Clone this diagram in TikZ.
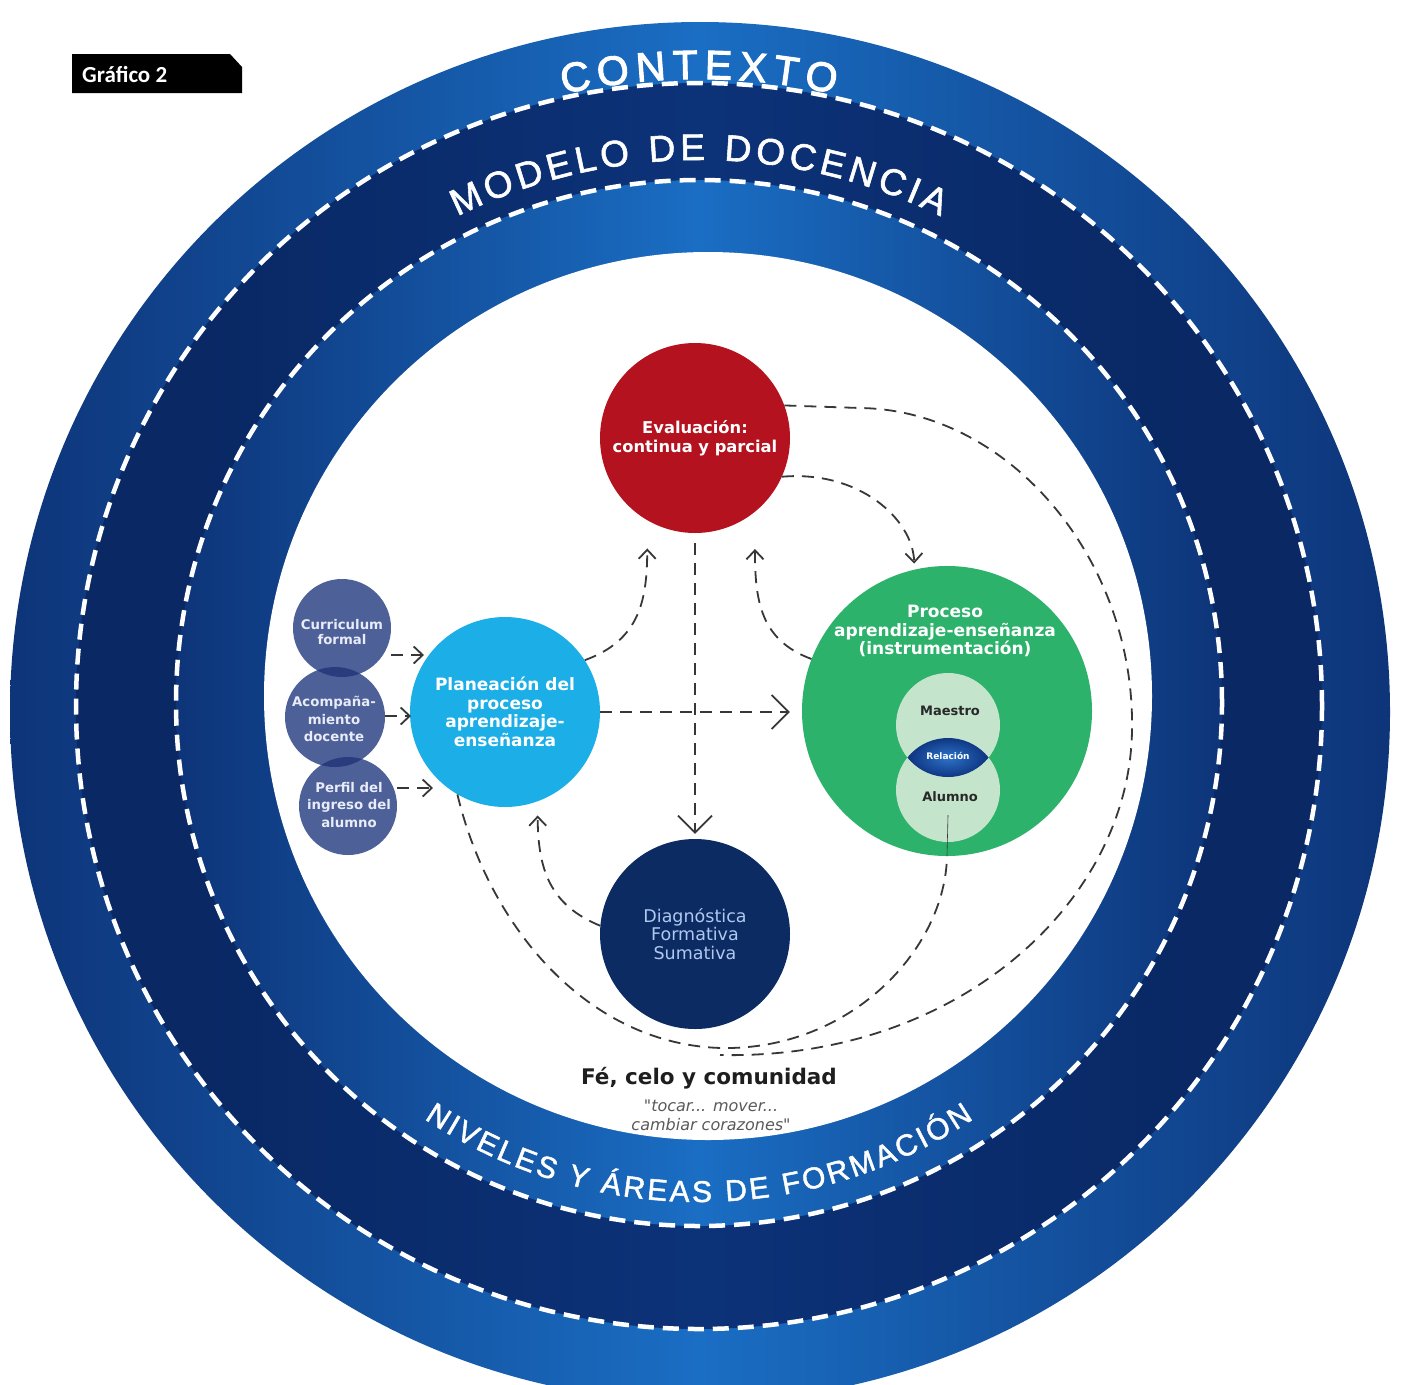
\documentclass[tikz,border=0pt]{standalone}
\usepackage{fontspec}
\usetikzlibrary{arrows.meta,calc}
\newfontfamily\ringfontA[FakeBold=2.5]{Liberation Sans}
\newfontfamily\ringfontB[FakeBold=1.5]{Liberation Sans}
\newfontfamily\nodefont{DejaVu Sans}
\newfontfamily\tagfont{Carlito}

\definecolor{ringdark}{RGB}{13,50,118}
\definecolor{ringbright}{RGB}{26,110,196}
\definecolor{middark}{RGB}{9,40,100}
\definecolor{midlight}{RGB}{12,50,120}
\definecolor{evalred}{RGB}{180,18,30}
\definecolor{planblue}{RGB}{28,174,230}
\definecolor{procgreen}{RGB}{44,178,107}
\definecolor{diagnavy}{RGB}{12,43,98}
\definecolor{diagtext}{RGB}{175,200,240}
\definecolor{slate}{RGB}{78,96,152}
\definecolor{slatedark}{RGB}{42,60,125}
\definecolor{slatetext}{RGB}{232,236,248}
\definecolor{paleg}{RGB}{196,228,204}
\definecolor{lensdark}{RGB}{10,45,120}
\definecolor{lenslight}{RGB}{45,115,200}
\definecolor{linegray}{RGB}{55,55,55}
\definecolor{inkdark}{RGB}{30,30,30}
\definecolor{quotegray}{RGB}{90,90,90}
\definecolor{labelgray}{RGB}{40,40,40}

\pgfdeclarehorizontalshading{bandshade}{100bp}{color(0bp)=(ringdark); color(24bp)=(ringdark); color(50bp)=(ringbright); color(76bp)=(ringdark); color(100bp)=(ringdark)}
\pgfdeclarehorizontalshading{midshade}{100bp}{color(0bp)=(middark); color(30bp)=(middark); color(50bp)=(midlight); color(70bp)=(middark); color(100bp)=(middark)}

% #1 centre, #2 radius, #3 mid angle, #4 tracking, #5 font, #6 font size, #7 direction (1 top, -1 bottom), #8 list letter/width(em)
\newcommand\arcletters[8]{%
  \gdef\arctotal{0}%
  \foreach \ch/\w in {#8}{%
    \pgfmathsetmacro\arctmp{\arctotal+\w*#6+#4}%
    \global\let\arctotal\arctmp
  }%
  \pgfmathsetmacro\arctmp{-0.5*(\arctotal-#4)}%
  \global\let\arcposv\arctmp
  \foreach \ch/\w in {#8}{%
    \pgfmathsetmacro\arcang{#3-(#7)*(\arcposv+0.5*\w*#6)/(#2)*180/pi}%
    \pgfmathsetmacro\arcrot{\arcang-(#7)*90}%
    \node[text=white, font=#5, inner sep=0pt, anchor=base, rotate=\arcrot] at ($(#1)+(\arcang:#2)$) {\ch};
    \pgfmathsetmacro\arctmp{\arcposv+\w*#6+#4}%
    \global\let\arcposv\arctmp
  }%
}

\tikzset{
  disc/.style={circle, inner sep=0pt, align=center},
  conn/.style={draw=linegray, line width=1.8pt, dash pattern=on 12pt off 8pt},
  bigtip/.style={-{Straight Barb[length=17pt,width=34pt]}},
  smalltip/.style={-{Straight Barb[length=9pt,width=17pt]}},
  ringdash/.style={draw=white, line width=4.5pt, dash pattern=on 16pt off 9pt},
  hair/.style={draw=linegray, line width=0.6pt},
}

\begin{document}
\begin{tikzpicture}[x=1pt,y=1pt]
\useasboundingbox (0,-1384) rectangle (1402,0);
\clip (0,-1384) rectangle (1402,0);
\fill[white] (0,-1384) rectangle (1402,0);

% rings
\coordinate (ringc) at (699,-706);
\shade[shading=bandshade] (700,-712) circle[radius=690];
\shade[shading=midshade] (699,-706) circle[radius=623];
\shade[shading=bandshade] (699,-703) circle[radius=523];
\fill[white] (708,-696) circle[radius=444];
\draw[ringdash] (699,-706) circle[radius=623];
\draw[ringdash] (699,-703) circle[radius=523];

% ring texts
\arcletters{ringc}{627}{90}{6.5}{\ringfontA\fontsize{41}{41}\selectfont}{41}{1}{C/0.722,O/0.778,N/0.722,T/0.611,E/0.667,X/0.667,T/0.611,O/0.778}
\arcletters{ringc}{546}{90}{4.3}{\ringfontB\fontsize{37}{37}\selectfont}{37}{1}{M/0.833,O/0.778,D/0.722,E/0.667,L/0.556,O/0.778,~/0.278,D/0.722,E/0.667,~/0.278,D/0.722,O/0.778,C/0.722,E/0.667,N/0.722,C/0.722,I/0.278,A/0.667}
\arcletters{ringc}{496}{270}{2.8}{\ringfontB\fontsize{30}{30}\selectfont}{30}{-1}{N/0.722,I/0.278,V/0.667,E/0.667,L/0.556,E/0.667,S/0.667,~/0.278,Y/0.667,~/0.278,Á/0.667,R/0.722,E/0.667,A/0.667,S/0.667,~/0.278,D/0.722,E/0.667,~/0.278,F/0.611,O/0.778,R/0.722,M/0.833,A/0.667,C/0.722,I/0.278,Ó/0.778,N/0.722}

% tag
\fill[black] (72,-54) -- (230,-54) -- (242,-67) -- (242,-93) -- (72,-93) -- cycle;
\node[text=white, font=\tagfont\bfseries\fontsize{23}{23}\selectfont, anchor=base west, inner sep=0pt] (tag) at (82,-82) {Gráfico 2};

% main circles
\node[disc, fill=evalred, minimum size=190pt, text=white, font=\nodefont\bfseries\fontsize{16.3}{19}\selectfont] (eval) at (695,-438) {Evaluación:\\continua y parcial};
\node[disc, fill=planblue, minimum size=190pt, text=white, font=\nodefont\bfseries\fontsize{17}{18.5}\selectfont] (plan) at (505,-712) {Planeación del\\proceso\\aprendizaje-\\enseñanza};
\node[disc, fill=procgreen, minimum size=290pt] (proc) at (947,-711) {};
\node[text=white, font=\nodefont\bfseries\fontsize{17}{18.5}\selectfont, align=center, inner sep=0pt] (proctxt) at (945,-631) {Proceso\\aprendizaje-enseñanza\\(instrumentación)};
\node[disc, fill=diagnavy, minimum size=190pt, text=diagtext, font=\nodefont\fontsize{17.5}{18.5}\selectfont] (diag) at (695,-934) {Diagnóstica\\Formativa\\Sumativa};

% maestro / alumno
\node[disc, fill=paleg, minimum size=104pt] (mae) at (948,-725) {};
\node[disc, fill=paleg, minimum size=104pt] (alu) at (948,-790) {};
\begin{scope}
  \clip (mae.center) circle[radius=52];
  \clip (alu.center) circle[radius=52];
  \shade[inner color=lenslight, outer color=lensdark] (904,-780) rectangle (992,-735);
\end{scope}
\node[text=labelgray, font=\nodefont\bfseries\fontsize{13}{13}\selectfont, inner sep=0pt] (maetxt) at (950,-711) {Maestro};
\node[text=labelgray, font=\nodefont\bfseries\fontsize{13}{13}\selectfont, inner sep=0pt] (alutxt) at (950,-797) {Alumno};
\node[text=white, font=\nodefont\bfseries\fontsize{9}{9}\selectfont, inner sep=0pt] (reltxt) at (948,-756) {Relación};

% small slate circles
\node[disc, fill=slate, minimum size=98pt] (cur) at (342,-628) {};
\node[disc, fill=slate, minimum size=100pt] (acomp) at (335,-717) {};
\node[disc, fill=slate, minimum size=98pt] (perf) at (348,-806) {};
\begin{scope}
  \clip (cur.center) circle[radius=49];
  \fill[slatedark] (acomp.center) circle[radius=50];
\end{scope}
\begin{scope}
  \clip (acomp.center) circle[radius=50];
  \fill[slatedark] (perf.center) circle[radius=49];
\end{scope}
\node[text=slatetext, font=\nodefont\bfseries\fontsize{13.3}{15.5}\selectfont, align=center, inner sep=0pt] (curtxt) at (342,-632) {Curriculum\\formal};
\node[text=slatetext, font=\nodefont\bfseries\fontsize{13.3}{17.5}\selectfont, align=center, inner sep=0pt] (acomptxt) at (334,-719) {Acompaña-\\miento\\docente};
\node[text=slatetext, font=\nodefont\bfseries\fontsize{13.3}{17.5}\selectfont, align=center, inner sep=0pt] (perftxt) at (349,-805) {Perfil del\\ingreso del\\alumno};

% short arrows into planeacion
\coordinate (t1) at (424,-655);
\coordinate (t2) at (411,-716);
\coordinate (t3) at (433,-788);
\draw[conn, smalltip] (t1 -| cur.east) -- (t1);
\draw[conn, smalltip] (t2 -| acomp.east) -- (t2);
\draw[conn, smalltip] (t3 -| perf.east) -- (t3);

% connectors
\draw[conn, bigtip, shorten >=12pt] (plan.east) -- (plan.east -| proc.west);
\draw[conn, bigtip, shorten <=10pt, shorten >=5pt] (eval.south) -- (diag.north);
\draw[conn, smalltip, shorten >=28pt] (plan.33) .. controls (640,-640) and (647,-600) .. (eval.240);
\draw[conn, smalltip, shorten >=37pt] (proc.159) .. controls (760,-640) and (755,-600) .. (eval.-51);
\draw[conn, smalltip, shorten >=14pt] (diag.175) .. controls (550,-905) and (538,-870) .. (plan.-70);
\draw[conn, smalltip, shorten >=6pt] (eval.-24) .. controls (860,-470) and (913,-520) .. (proc.103);
\coordinate (gend) at (720,-1055);
\draw[conn] (eval.20) -- (860,-408) .. controls (1010,-410) and (1135,-560) .. (1132,-730) .. controls (1130,-900) and (960,-1060) .. (gend);
\draw[conn] (plan.240) .. controls (490,-930) and (590,-1045) .. (722,-1048) .. controls (850,-1050) and (945,-950) .. (proc.south);
\draw[hair] ([yshift=-25pt]alu.center) -- (proc.south);

% motto
\node[text=inkdark, font=\nodefont\bfseries\fontsize{21.5}{24}\selectfont, inner sep=0pt] (fe) at (709,-1078) {Fé, celo y comunidad};
\node[text=quotegray, font=\nodefont\itshape\fontsize{16}{19}\selectfont, align=center, inner sep=0pt] (quote) at (711,-1115) {"tocar... mover...\\cambiar corazones"};
\end{tikzpicture}
\end{document}
